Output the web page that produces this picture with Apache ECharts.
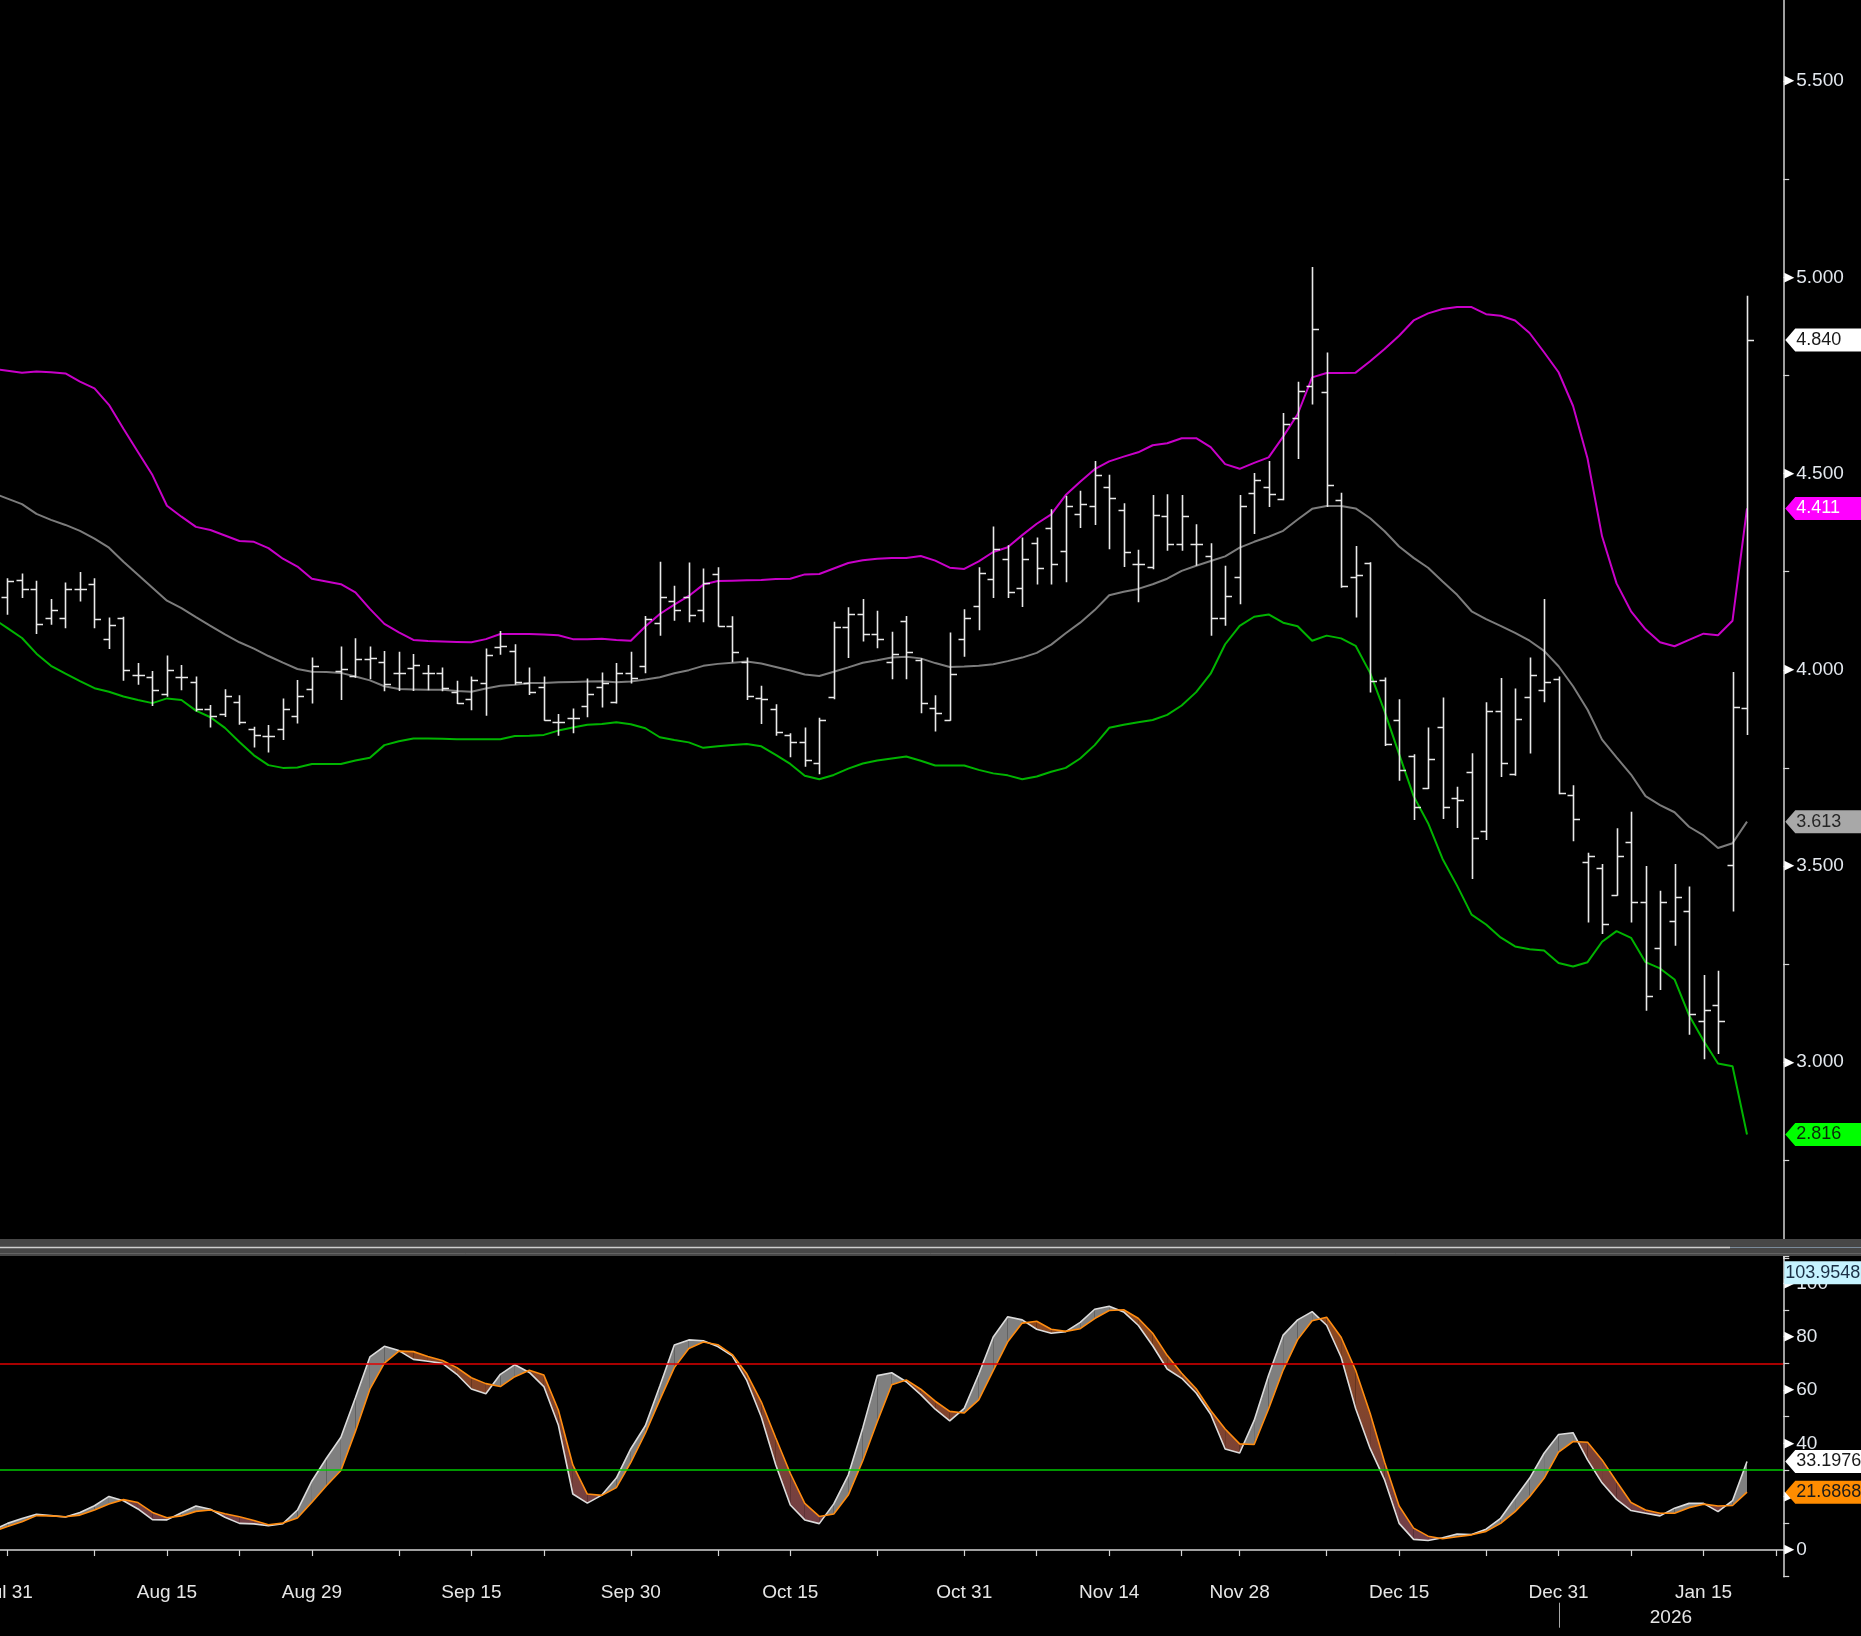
<!DOCTYPE html>
<html><head><meta charset="utf-8">
<script src="https://cdn.jsdelivr.net/npm/echarts@6/dist/echarts.min.js"></script>
<style>html,body{margin:0;padding:0;background:#000;}#c{width:1861px;height:1636px;}</style>
</head><body><div id="c"></div>
<script>
// ---------- data ----------
const dates = ['Jul 30','Jul 31','Aug 1','Aug 4','Aug 5','Aug 6','Aug 7','Aug 8','Aug 11','Aug 12','Aug 13','Aug 14','Aug 15','Aug 18','Aug 19','Aug 20','Aug 21','Aug 22','Aug 25','Aug 26','Aug 27','Aug 28','Aug 29','Sep 1','Sep 2','Sep 3','Sep 4','Sep 5','Sep 8','Sep 9','Sep 10','Sep 11','Sep 12','Sep 15','Sep 16','Sep 17','Sep 18','Sep 19','Sep 22','Sep 23','Sep 24','Sep 25','Sep 26','Sep 29','Sep 30','Oct 1','Oct 2','Oct 3','Oct 6','Oct 7','Oct 8','Oct 9','Oct 10','Oct 13','Oct 14','Oct 15','Oct 16','Oct 17','Oct 20','Oct 21','Oct 22','Oct 23','Oct 24','Oct 27','Oct 28','Oct 29','Oct 30','Oct 31','Nov 3','Nov 4','Nov 5','Nov 6','Nov 7','Nov 10','Nov 11','Nov 12','Nov 13','Nov 14','Nov 17','Nov 18','Nov 19','Nov 20','Nov 21','Nov 24','Nov 25','Nov 26','Nov 28','Dec 1','Dec 2','Dec 3','Dec 4','Dec 5','Dec 8','Dec 9','Dec 10','Dec 11','Dec 12','Dec 15','Dec 16','Dec 17','Dec 18','Dec 19','Dec 22','Dec 23','Dec 24','Dec 26','Dec 29','Dec 30','Dec 31','Jan 2','Jan 5','Jan 6','Jan 7','Jan 8','Jan 9','Jan 12','Jan 13','Jan 14','Jan 15','Jan 16','Jan 20','Jan 21','Jan 22','Jan 23'];

const opens = [null,
4.186,4.229,4.205,4.131,4.131,4.205,4.218,4.078,4.131,3.987,
3.981,3.938,3.981,3.970,3.900,3.887,3.919,3.848,3.830,3.848,
3.881,3.950,null,3.998,3.984,4.027,4.021,3.991,4.004,3.991,
3.993,3.944,3.925,3.967,4.057,4.049,3.967,3.957,3.868,3.876,
3.908,3.957,3.919,3.991,4.010,4.118,4.174,4.185,4.152,4.244,
4.112,4.021,3.927,3.899,3.834,3.817,3.762,3.930,4.108,4.142,
4.091,4.021,4.125,4.025,3.902,3.872,4.078,4.163,4.231,4.281,
4.208,4.322,4.362,4.303,4.397,4.417,4.465,4.407,4.269,4.261,
4.392,4.320,4.320,4.290,4.131,4.236,4.451,4.465,4.434,4.642,
4.722,4.708,4.433,4.236,4.272,3.973,3.872,3.780,3.698,3.853,
3.673,3.739,3.588,3.896,3.734,3.930,3.948,3.976,3.681,3.509,
3.494,3.426,3.562,3.409,3.290,3.361,3.386,3.104,3.146,3.503,3.903];
const highs = [null,
4.231,4.243,4.225,4.178,4.220,4.247,4.231,4.131,4.133,4.015,
3.995,4.034,4.010,3.981,3.908,3.948,3.933,3.853,3.857,3.925,
3.972,4.029,null,4.057,4.078,4.057,4.046,4.044,4.038,4.010,
4.004,3.970,3.981,4.052,4.097,4.063,4.004,3.981,3.885,3.899,
3.976,3.991,4.015,4.044,4.135,4.273,4.212,4.271,4.256,4.259,
4.134,4.029,3.957,3.910,3.836,3.851,3.876,4.120,4.157,4.178,
4.148,4.095,4.135,4.027,3.933,4.093,4.152,4.259,4.363,4.315,
4.335,4.335,4.407,4.441,4.454,4.530,4.495,4.422,4.304,4.443,
4.445,4.443,4.369,4.320,4.263,4.443,4.499,4.530,4.652,4.732,
5.024,4.806,4.449,4.313,4.272,3.978,3.923,3.783,3.851,3.927,
3.700,3.785,3.915,3.977,3.950,4.029,4.178,3.981,3.704,3.532,
3.503,3.594,3.636,3.498,3.435,3.503,3.446,3.220,3.231,3.992,4.951];
const lows = [null,
4.142,4.185,4.093,4.117,4.108,4.176,4.108,4.055,3.974,3.964,
3.910,3.933,3.950,3.896,3.855,3.882,3.862,3.804,3.791,3.823,
3.865,3.916,null,3.925,3.982,3.978,3.947,3.948,3.948,3.950,
3.947,3.915,3.899,3.885,4.040,3.964,3.938,3.872,3.834,3.840,
3.881,3.906,3.916,3.967,3.993,4.089,4.127,4.123,4.123,4.112,
4.021,3.925,3.864,3.834,3.779,3.755,3.736,3.927,4.032,4.074,
4.057,3.978,3.978,3.891,3.845,3.872,4.035,4.103,4.185,4.185,
4.162,4.219,4.219,4.225,4.363,4.371,4.309,4.264,4.174,4.258,
4.305,4.305,4.267,4.089,4.114,4.169,4.348,4.417,4.434,4.539,
4.678,4.417,4.211,4.135,3.944,3.808,3.719,3.619,3.698,3.622,
3.599,3.469,3.568,3.729,3.732,3.789,3.919,3.685,3.565,3.358,
3.329,3.426,3.358,3.133,3.186,3.299,3.072,3.010,3.023,3.386,3.836];
const closes = [null,
4.225,4.205,4.117,4.151,4.205,4.205,4.129,4.114,4.000,3.987,
3.948,4.000,3.981,3.900,3.881,3.932,3.868,3.834,3.830,3.899,
3.933,4.010,null,4.001,4.027,4.029,3.964,3.993,4.012,3.991,
3.953,3.915,3.974,4.038,4.061,3.970,3.944,3.872,3.868,3.876,
3.938,3.965,3.991,3.978,4.129,4.185,4.152,4.140,4.220,4.112,
4.044,3.933,3.925,3.842,3.817,3.770,3.872,4.108,4.142,4.091,
4.078,4.040,4.044,3.916,3.891,3.990,4.131,4.247,4.307,4.199,
4.281,4.259,4.269,4.417,4.422,4.495,4.437,4.299,4.269,4.394,
4.320,4.392,4.320,4.131,4.189,4.417,4.484,4.448,4.626,4.709,
4.869,4.472,4.214,4.241,3.971,3.811,3.745,3.650,3.772,3.650,
3.667,3.571,3.896,3.762,3.875,3.987,3.970,3.685,3.621,3.526,
3.352,3.526,3.409,3.169,3.409,3.420,3.123,3.132,3.104,3.904,4.840];

const bbUpper = [4.767,
4.762,4.757,4.760,4.758,4.755,4.734,4.717,4.675,4.614,4.555,
4.496,4.418,4.390,4.364,4.356,4.342,4.328,4.326,4.310,4.283,
4.263,4.232,4.225,4.218,4.197,4.155,4.117,4.095,4.076,4.073,
4.072,4.071,4.070,4.078,4.091,4.091,4.091,4.090,4.088,4.078,
4.078,4.079,4.076,4.074,4.110,4.142,4.166,4.188,4.217,4.226,
4.227,4.228,4.229,4.231,4.232,4.243,4.244,4.258,4.272,4.279,
4.283,4.285,4.285,4.290,4.278,4.260,4.257,4.276,4.300,4.312,
4.343,4.372,4.396,4.445,4.479,4.511,4.531,4.543,4.554,4.572,
4.577,4.590,4.590,4.567,4.524,4.512,4.527,4.541,4.594,4.651,
4.745,4.756,4.756,4.757,4.786,4.817,4.851,4.890,4.908,4.919,
4.924,4.924,4.906,4.902,4.890,4.858,4.809,4.758,4.672,4.538,
4.340,4.220,4.149,4.103,4.070,4.060,4.076,4.092,4.088,4.125,4.411];
const bbMid = [4.450,
4.436,4.422,4.397,4.382,4.369,4.354,4.334,4.311,4.275,4.242,
4.209,4.176,4.157,4.134,4.112,4.090,4.070,4.054,4.035,4.018,
4.002,3.995,3.994,3.992,3.983,3.973,3.958,3.951,3.950,3.949,
3.949,3.946,3.944,3.952,3.959,3.962,3.966,3.966,3.968,3.969,
3.970,3.971,3.968,3.970,3.975,3.981,3.991,3.999,4.010,4.015,
4.018,4.021,4.016,4.007,3.998,3.988,3.984,3.995,4.006,4.018,
4.024,4.031,4.033,4.029,4.017,4.007,4.008,4.010,4.014,4.022,
4.031,4.043,4.064,4.093,4.120,4.152,4.190,4.199,4.206,4.218,
4.232,4.252,4.265,4.277,4.289,4.311,4.326,4.339,4.354,4.383,
4.410,4.417,4.417,4.411,4.386,4.353,4.314,4.285,4.260,4.225,
4.191,4.149,4.129,4.112,4.094,4.074,4.048,4.009,3.958,3.898,
3.822,3.777,3.733,3.678,3.655,3.637,3.600,3.578,3.546,3.558,3.613];
const bbLower = [4.131,
4.106,4.081,4.041,4.010,3.990,3.971,3.953,3.944,3.932,3.923,
3.915,3.927,3.923,3.896,3.879,3.852,3.816,3.782,3.757,3.750,
3.751,3.760,3.760,3.760,3.769,3.776,3.808,3.818,3.825,3.825,
3.824,3.823,3.823,3.823,3.823,3.831,3.832,3.834,3.845,3.853,
3.860,3.862,3.866,3.861,3.851,3.828,3.821,3.815,3.801,3.805,
3.808,3.811,3.805,3.783,3.760,3.730,3.721,3.732,3.748,3.761,
3.769,3.774,3.779,3.768,3.756,3.756,3.756,3.745,3.736,3.731,
3.721,3.728,3.740,3.750,3.774,3.808,3.852,3.860,3.866,3.872,
3.885,3.909,3.943,3.990,4.065,4.112,4.135,4.141,4.120,4.111,
4.074,4.087,4.080,4.061,3.992,3.894,3.785,3.678,3.609,3.518,
3.450,3.376,3.351,3.318,3.295,3.288,3.285,3.253,3.244,3.255,
3.307,3.334,3.317,3.255,3.239,3.211,3.120,3.055,2.997,2.990,2.816];

const stochK = [7.5,
10,11.8,13.4,12.9,12.4,14.1,16.6,20.1,18.5,15.4,
11.4,11.3,14,16.5,15.3,12.3,10,9.8,9.1,9.9,
15,25.9,34.4,42.3,57.1,72.4,76.4,74.8,71.5,70.8,
70,65.9,60.4,58.6,65.9,69.5,66.6,61.3,46.9,21,
17.6,20.6,27,38,46.6,61.5,76.9,78.8,78.5,76.3,
72.8,63.6,49.9,31.9,16.9,11.3,9.9,17.3,28.1,45.8,
65.4,66.5,63.1,58.3,52.8,48.4,53.1,65.9,79.9,87.5,
86.3,82.8,81.3,81.9,85.4,90.3,91.4,89.3,84.3,76.6,
67.9,64.4,58.9,50.9,37.9,36.4,48.6,65.6,80.6,86.3,
89.4,84.3,72.3,53.1,38.1,26.3,10,4.0,3.6,4.6,
6.0,5.8,7.8,11.9,19.5,26.9,36.3,43.3,44.0,33.8,
25.2,19.0,14.8,13.8,12.8,15.7,17.5,17.5,14.4,18.5,33.2];
const stochD = [6.9,
8.8,10.6,12.9,12.8,12.5,13.1,15,17.3,18.9,17.8,
14.1,12.1,12.8,14.5,15,13.6,12.5,11.1,9.5,10.1,
12,17.9,24.1,29.8,44.5,60.3,70.1,74.6,74.4,72.6,
71.1,68.4,64.6,62.4,61.3,65,67.4,65.6,52.5,31.9,
21,20.5,23.4,32.9,43.8,56.3,68.4,75.6,78,77,
73.3,66.1,55.6,42,28.8,17.5,12.6,13.5,20.6,33.5,
48.1,62,63.8,60.3,55.8,52,51.4,56.3,67.3,78.1,
85.1,85.8,82.8,82,83,86.8,89.8,90.1,86.9,81.3,
73,66.3,60.5,52.3,45.4,39.8,39.6,53,67.5,78.9,
86,87.3,79.8,67.4,51.3,32.9,16.5,8.2,5.2,4.2,
5.0,5.7,7.0,10.0,14.4,20.0,26.9,36.7,40.7,40.4,
33.8,25.7,17.8,15.0,13.8,13.8,15.9,17.2,16.5,16.7,21.7];

const labelDates = ['Jul 31','Aug 15','Aug 29','Sep 15','Sep 30','Oct 15','Oct 31','Nov 14','Nov 28','Dec 15','Dec 31','Jan 15'];
const minorTickDates = ['Aug 8','Aug 22','Sep 8','Sep 22','Oct 8','Oct 23','Nov 7','Nov 21','Dec 8','Dec 23','Jan 8','Jan 23'];
const priceLabels = [3.0,3.5,4.0,4.5,5.0,5.5];
const stochLabels = [0,20,40,60,80,100];
const stochLevels = [70,30];
const yearLabel = '2026';
const priceTags = [
  {v:4.840, text:'4.840', bg:'#ffffff', fg:'#1a1a1a'},
  {v:4.411, text:'4.411', bg:'#ff00ff', fg:'#ffffff'},
  {v:3.613, text:'3.613', bg:'#a8a8a8', fg:'#262626'},
  {v:2.816, text:'2.816', bg:'#00ff00', fg:'#0a2a0a'}
];
const stochTags = [
  {v:103.9548, text:'103.9548', bg:'#c6f3ff', fg:'#1b2f45', flat:true},
  {v:33.1976, text:'33.1976', bg:'#ffffff', fg:'#1a1a1a'},
  {v:21.6868, text:'21.6868', bg:'#ff8c00', fg:'#1a1a1a'}
];

// ---------- build ----------
const FONT = '"Liberation Sans", Arial, sans-serif';
const BAND = 14.496;
const N = dates.length;
const gridLeft = -14.25;
const gridWidth = N * BAND;
const labelSet = new Set(labelDates);
const tickSet = new Set(labelDates.concat(minorTickDates));

const ohlc = [];
for (let i = 0; i < opens.length; i++) {
  if (opens[i] == null) continue;
  ohlc.push([i, opens[i], highs[i], lows[i], closes[i]]);
}
const fillData = [];
for (let i = 0; i < stochK.length - 1; i++) {
  fillData.push([i, stochK[i], stochD[i], stochK[i + 1], stochD[i + 1]]);
}

function renderBar(params, api) {
  const i = api.value(0);
  const o = api.coord([i, api.value(1)]);
  const h = api.coord([i, api.value(2)]);
  const l = api.coord([i, api.value(3)]);
  const c = api.coord([i, api.value(4)]);
  const x = Math.round(h[0]) + 0.5;
  const st = {stroke: '#e9e9e9', lineWidth: 1.6};
  return {type: 'group', children: [
    {type: 'line', shape: {x1: x, y1: h[1] - 0.8, x2: x, y2: l[1] + 0.8}, style: st},
    {type: 'line', shape: {x1: x - 6, y1: Math.round(o[1]) + 0.5, x2: x, y2: Math.round(o[1]) + 0.5}, style: st},
    {type: 'line', shape: {x1: x, y1: Math.round(c[1]) + 0.5, x2: x + 6.5, y2: Math.round(c[1]) + 0.5}, style: st}
  ]};
}

function renderFill(params, api) {
  const i = api.value(0);
  const k0 = api.value(1), d0 = api.value(2), k1 = api.value(3), d1 = api.value(4);
  const pk0 = api.coord([i, k0]), pd0 = api.coord([i, d0]);
  const pk1 = api.coord([i + 1, k1]), pd1 = api.coord([i + 1, d1]);
  const yTop = api.coord([i, 100])[1], yBot = api.coord([i, 0])[1];
  const red = new echarts.graphic.LinearGradient(0, yTop, 0, yBot, [
    {offset: 0, color: '#8f4a1a'}, {offset: 0.55, color: '#7f4330'}, {offset: 1, color: '#6f3e4c'}
  ], true);
  const gray = '#7f7f7f';
  const s0 = k0 - d0, s1 = k1 - d1;
  const children = [];
  if (s0 * s1 >= 0) {
    children.push({type: 'polygon', shape: {points: [pk0, pk1, pd1, pd0]},
      style: {fill: (s0 + s1) >= 0 ? gray : red, stroke: null}});
  } else {
    const t = s0 / (s0 - s1);
    const P = [pk0[0] + t * (pk1[0] - pk0[0]), pk0[1] + t * (pk1[1] - pk0[1])];
    children.push({type: 'polygon', shape: {points: [pk0, P, pd0]}, style: {fill: s0 > 0 ? gray : red}});
    children.push({type: 'polygon', shape: {points: [P, pk1, pd1]}, style: {fill: s1 > 0 ? gray : red}});
  }
  return {type: 'group', children: children};
}

const axisTextColor = '#e3e8ee';
const option = {
  backgroundColor: '#000000',
  animation: false,
  grid: [
    {left: gridLeft, top: -17.1, width: gridWidth, height: 1275.6, containLabel: false, outerBoundsMode: 'none'},
    {left: gridLeft, top: 1256.7, width: gridWidth, height: 320, containLabel: false, outerBoundsMode: 'none'}
  ],
  xAxis: [
    {type: 'category', gridIndex: 0, data: dates, boundaryGap: true, show: false},
    {type: 'category', gridIndex: 1, data: dates, boundaryGap: true,
      axisLine: {show: true, lineStyle: {color: '#d4d4d4', width: 1.5}},
      axisTick: {show: true, alignWithLabel: true, length: 6, lineStyle: {color: '#d4d4d4', width: 1.2},
        interval: function (idx, val) { return tickSet.has(val); }},
      axisLabel: {show: true, color: '#e6e6e6', fontSize: 19, fontFamily: FONT, margin: 7,
        interval: function (idx, val) { return labelSet.has(val); }},
      splitLine: {show: false}}
  ],
  yAxis: [
    {type: 'value', gridIndex: 0, position: 'right', min: 2.5, max: 5.75, interval: 0.25,
      axisLine: {show: true, lineStyle: {color: '#d4d4d4', width: 1.5}},
      axisTick: {show: true, length: 6, lineStyle: {color: '#d4d4d4', width: 1.2}},
      splitLine: {show: false},
      axisLabel: {show: true, margin: 1, fontFamily: FONT,
        formatter: function (v) {
          const hit = priceLabels.some(function (p) { return Math.abs(p - v) < 1e-6; });
          return hit ? '{t|\u25B6}{n|' + v.toFixed(3) + '}' : '';
        },
        rich: {t: {fontSize: 13, color: '#ffffff', fontFamily: 'DejaVu Sans', padding: [0, 2, 0, 0], verticalAlign: 'middle'},
               n: {fontSize: 19, color: axisTextColor, fontFamily: FONT, verticalAlign: 'middle'}}}},
    {type: 'value', gridIndex: 1, position: 'right', min: -10, max: 110, interval: 10,
      axisLine: {show: true, lineStyle: {color: '#d4d4d4', width: 1.5}},
      axisTick: {show: true, length: 6, lineStyle: {color: '#d4d4d4', width: 1.2}},
      splitLine: {show: false},
      axisLabel: {show: true, margin: 1, fontFamily: FONT,
        formatter: function (v) {
          return stochLabels.indexOf(Math.round(v)) >= 0 && Math.abs(v - Math.round(v)) < 1e-6 ? '{t|\u25B6}{n|' + Math.round(v) + '}' : '';
        },
        rich: {t: {fontSize: 13, color: '#ffffff', fontFamily: 'DejaVu Sans', padding: [0, 2, 0, 0], verticalAlign: 'middle'},
               n: {fontSize: 19, color: axisTextColor, fontFamily: FONT, verticalAlign: 'middle'}}}}
  ],
  series: [
    {name: 'Upper', type: 'line', xAxisIndex: 0, yAxisIndex: 0, data: bbUpper, symbol: 'none',
      lineStyle: {color: '#c800c8', width: 2}, z: 2},
    {name: 'Mid', type: 'line', xAxisIndex: 0, yAxisIndex: 0, data: bbMid, symbol: 'none',
      lineStyle: {color: '#7c7c7c', width: 2}, z: 2},
    {name: 'Lower', type: 'line', xAxisIndex: 0, yAxisIndex: 0, data: bbLower, symbol: 'none',
      lineStyle: {color: '#00b400', width: 2}, z: 2},
    {name: 'Price', type: 'custom', xAxisIndex: 0, yAxisIndex: 0, data: ohlc, renderItem: renderBar,
      encode: {x: 0, y: [1, 2, 3, 4]}, z: 3, clip: true},
    {name: 'Fill', type: 'custom', xAxisIndex: 1, yAxisIndex: 1, data: fillData, renderItem: renderFill,
      encode: {x: 0, y: [1, 2, 3, 4]}, z: 2, clip: true},
    {name: '%K', type: 'line', xAxisIndex: 1, yAxisIndex: 1, data: stochK, symbol: 'none',
      lineStyle: {color: '#dcdcdc', width: 1.6}, z: 3},
    {name: '%D', type: 'line', xAxisIndex: 1, yAxisIndex: 1, data: stochD, symbol: 'none',
      lineStyle: {color: '#ff8c10', width: 1.6}, z: 4,
      markLine: {silent: true, symbol: 'none', label: {show: false}, animation: false,
        data: [
          {yAxis: stochLevels[0], lineStyle: {color: '#e00000', width: 1.6, type: 'solid'}},
          {yAxis: stochLevels[1], lineStyle: {color: '#00c800', width: 1.6, type: 'solid'}}
        ]}}
  ]
};

const chart = echarts.init(document.getElementById('c'), null, {renderer: 'canvas'});
chart.setOption(option);

// ---------- overlays positioned through the chart's own scales ----------
const rect0 = chart.getModel().getComponent('grid', 0).coordinateSystem.getRect();
const axisX = rect0.x + rect0.width;
const g = [];
// pane separator
g.push({type: 'rect', shape: {x: 0, y: 1239, width: 1861, height: 17}, style: {fill: '#474747'}, z: 50});
g.push({type: 'line', shape: {x1: 0, y1: 1247.5, x2: 1730, y2: 1247.5}, style: {stroke: '#cfcfcf', lineWidth: 1.6}, z: 51});
g.push({type: 'line', shape: {x1: 1730, y1: 1247.5, x2: 1861, y2: 1247.5}, style: {stroke: '#7a8a9a', lineWidth: 1.2}, z: 51});
g.push({type: 'line', shape: {x1: 0, y1: 1253.5, x2: 1861, y2: 1253.5}, style: {stroke: '#636363', lineWidth: 1}, z: 51});

function addTag(y, t) {
  const h = 23, tip = axisX + 2;
  const pts = t.flat
    ? [[axisX + 1, y - h / 2], [1861, y - h / 2], [1861, y + h / 2], [axisX + 1, y + h / 2]]
    : [[tip, y], [tip + 10, y - h / 2], [1861, y - h / 2], [1861, y + h / 2], [tip + 10, y + h / 2]];
  g.push({type: 'polygon', shape: {points: pts}, style: {fill: t.bg}, z: 60});
  g.push({type: 'text', x: t.flat ? axisX + 2 : tip + 11, y: y, z: 61,
    style: {text: t.text, fill: t.fg, font: '18px ' + FONT, textVerticalAlign: 'middle', verticalAlign: 'middle', textAlign: 'left', align: 'left'}});
}
priceTags.forEach(function (t) { addTag(chart.convertToPixel({yAxisIndex: 0}, t.v), t); });
stochTags.forEach(function (t) { addTag(chart.convertToPixel({yAxisIndex: 1}, t.v), t); });

// year marker
const decX = chart.convertToPixel({xAxisIndex: 1}, dates.indexOf('Dec 31'));
const axisBottom = chart.convertToPixel({yAxisIndex: 1}, -10);
g.push({type: 'line', shape: {x1: Math.round(decX) + 0.5, y1: axisBottom + 26, x2: Math.round(decX) + 0.5, y2: axisBottom + 51},
  style: {stroke: '#a8a8a8', lineWidth: 1}, z: 55});
g.push({type: 'text', x: (decX + axisX) / 2, y: axisBottom + 41, z: 55,
  style: {text: yearLabel, fill: '#e6e6e6', font: '19px ' + FONT, align: 'center', textAlign: 'center', verticalAlign: 'middle', textVerticalAlign: 'middle'}});

chart.setOption({graphic: g});
</script>
</body></html>
